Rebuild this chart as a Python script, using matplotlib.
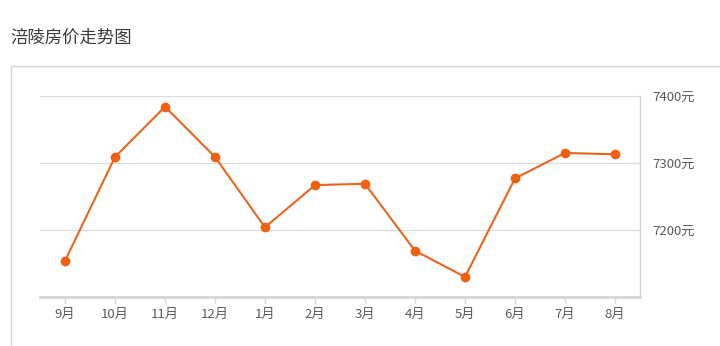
import matplotlib
matplotlib.use('Agg')
import matplotlib.pyplot as plt
from matplotlib.lines import Line2D

plt.rcParams['font.family'] = ['Noto Sans CJK SC', 'DejaVu Sans']

# --- DATA ---
months = ['9月', '10月', '11月', '12月', '1月', '2月', '3月', '4月', '5月', '6月', '7月', '8月']
prices = [7154, 7309, 7384, 7309, 7204, 7267, 7269, 7169, 7130, 7277, 7315, 7313]
y_ticks = [7200, 7300, 7400]
y_tick_labels = ['7200元', '7300元', '7400元']

W, H = 720, 346
fig = plt.figure(figsize=(W / 100, H / 100), dpi=100)

# title
fig.text(10 / W, 1 - 38 / H, '涪陵房价走势图', fontsize=12.5, color='#3a3a3a',
         ha='left', va='center')

# panel border (top and left edge)
fig.add_artist(Line2D([11 / W, 11 / W, 1.0], [0, 1 - 66 / H, 1 - 66 / H],
                      transform=fig.transFigure, color='#d6d6d6', lw=1.0))

ax = fig.add_axes([40 / W, 1 - 297 / H, 600 / W, 201 / H])
x = list(range(len(months)))
ax.plot(x, prices, color='#e8661c', lw=1.5, marker='o', markersize=6,
        markerfacecolor='#f0600e', markeredgecolor='#f0600e', zorder=3)

ax.set_xlim(-0.5, len(months) - 0.5)
ax.set_ylim(7100, 7400)
ax.set_xticks(x)
ax.set_xticklabels(months)
ax.set_yticks(y_ticks)
ax.set_yticklabels(y_tick_labels)
ax.yaxis.tick_right()
ax.tick_params(axis='y', length=0, pad=9, labelsize=9.5, labelcolor='#5a5a5a')
ax.tick_params(axis='x', length=4, width=1, color='#d6d6d6', pad=4,
               labelsize=9.5, labelcolor='#5a5a5a')

ax.grid(axis='y', color='#dcdcdc', lw=0.9)
ax.set_axisbelow(True)
for side in ['left', 'top']:
    ax.spines[side].set_visible(False)
ax.spines['right'].set_color('#d6d6d6')
ax.spines['right'].set_linewidth(1.0)
ax.spines['bottom'].set_color('#d6d6d6')
ax.spines['bottom'].set_linewidth(2.0)

fig.savefig('out.png', dpi=100)
